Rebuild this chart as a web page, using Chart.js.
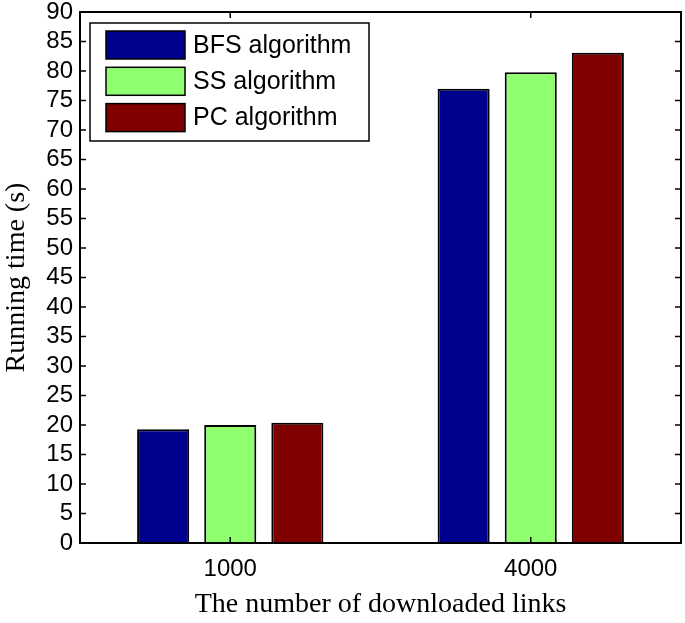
<!DOCTYPE html>
<html>
<head>
<meta charset="utf-8">
<script src="https://cdn.jsdelivr.net/npm/chart.js@4/dist/chart.umd.min.js"></script>
<style>
  html, body { margin: 0; padding: 0; background: #fff; }
  #wrap { width: 685px; height: 623px; }
</style>
</head>
<body>
<div id="wrap"><canvas id="chart"></canvas></div>
<script>
// Data
const linkCounts = ['1000', '4000'];
const bfsTimes = [19.3, 77.0];
const ssTimes = [20.0, 79.8];
const pcTimes = [20.4, 83.1];
const seriesNames = ['BFS algorithm', 'SS algorithm', 'PC algorithm'];

// MATLAB style box with inward ticks on all four sides
const boxPlugin = {
  id: 'matlabBox',
  afterDatasetsDraw(chart) {
    const { ctx, chartArea: a, scales } = chart;
    const tick = 6;
    ctx.save();
    ctx.strokeStyle = '#000';
    ctx.lineWidth = 1.5;
    ctx.beginPath();
    scales.y.ticks.forEach(t => {
      const y = scales.y.getPixelForValue(t.value);
      ctx.moveTo(a.left, y); ctx.lineTo(a.left + tick, y);
      ctx.moveTo(a.right, y); ctx.lineTo(a.right - tick, y);
    });
    linkCounts.forEach((_, i) => {
      const x = scales.x.getPixelForValue(i);
      ctx.moveTo(x, a.top); ctx.lineTo(x, a.top + tick);
      ctx.moveTo(x, a.bottom); ctx.lineTo(x, a.bottom - tick);
    });
    ctx.stroke();
    ctx.lineWidth = 2;
    ctx.strokeRect(a.left, a.top, a.right - a.left, a.bottom - a.top);
    ctx.restore();
  }
};

// Legend inside the axes, top left, with a framed box
const boxLegend = {
  id: 'boxLegend',
  afterDraw(chart) {
    const { ctx, chartArea: a } = chart;
    const x0 = a.left + 10, y0 = a.top + 11;
    const w = 279, h = 118;
    ctx.save();
    ctx.fillStyle = '#fff';
    ctx.fillRect(x0, y0, w, h);
    ctx.strokeStyle = '#000';
    ctx.lineWidth = 1.5;
    ctx.strokeRect(x0, y0, w, h);
    ctx.font = '25px "Liberation Sans", Arial, sans-serif';
    ctx.textBaseline = 'middle';
    chart.data.datasets.forEach((ds, i) => {
      const sy = y0 + 8 + i * 36.3;
      ctx.fillStyle = ds.backgroundColor;
      ctx.fillRect(x0 + 16, sy, 79, 28);
      ctx.strokeRect(x0 + 16, sy, 79, 28);
      ctx.fillStyle = '#000';
      ctx.fillText(ds.label, x0 + 103, sy + 15);
    });
    ctx.restore();
  }
};

const barStyle = { borderColor: '#000', borderWidth: 2, categoryPercentage: 0.67, barPercentage: 0.776 };

new Chart(document.getElementById('chart'), {
  type: 'bar',
  data: {
    labels: linkCounts,
    datasets: [
      { label: seriesNames[0], data: bfsTimes, backgroundColor: '#00008f', ...barStyle },
      { label: seriesNames[1], data: ssTimes, backgroundColor: '#8fff70', ...barStyle },
      { label: seriesNames[2], data: pcTimes, backgroundColor: '#800000', ...barStyle }
    ]
  },
  options: {
    responsive: true,
    maintainAspectRatio: false,
    animation: false,
    layout: { padding: { top: 12, right: 4, left: 0, bottom: 0 } },
    plugins: {
      legend: { display: false },
      tooltip: { enabled: false }
    },
    scales: {
      x: {
        grid: { display: false, drawTicks: false },
        border: { display: false },
        ticks: { color: '#000', padding: 12, font: { family: '"Liberation Sans", Arial, sans-serif', size: 24 } },
        title: {
          display: true,
          text: 'The number of downloaded links',
          color: '#000',
          padding: { top: 0, bottom: 2 },
          font: { family: '"Liberation Serif", "Times New Roman", serif', size: 28 }
        },
        afterFit(scale) { scale.height = 80; scale.paddingLeft = 0; scale.paddingRight = 0; }
      },
      y: {
        min: 0,
        max: 90,
        grid: { display: false, drawTicks: false },
        border: { display: false },
        ticks: { stepSize: 5, autoSkip: false, color: '#000', padding: 7, font: { family: '"Liberation Sans", Arial, sans-serif', size: 24 } },
        title: {
          display: true,
          text: 'Running time (s)',
          color: '#000',
          padding: { top: 0, bottom: 0 },
          font: { family: '"Liberation Serif", "Times New Roman", serif', size: 28 }
        },
        afterFit(scale) { scale.width = 80; scale.paddingTop = 0; scale.paddingBottom = 0; }
      }
    }
  },
  plugins: [boxPlugin, boxLegend]
});
</script>
</body>
</html>
